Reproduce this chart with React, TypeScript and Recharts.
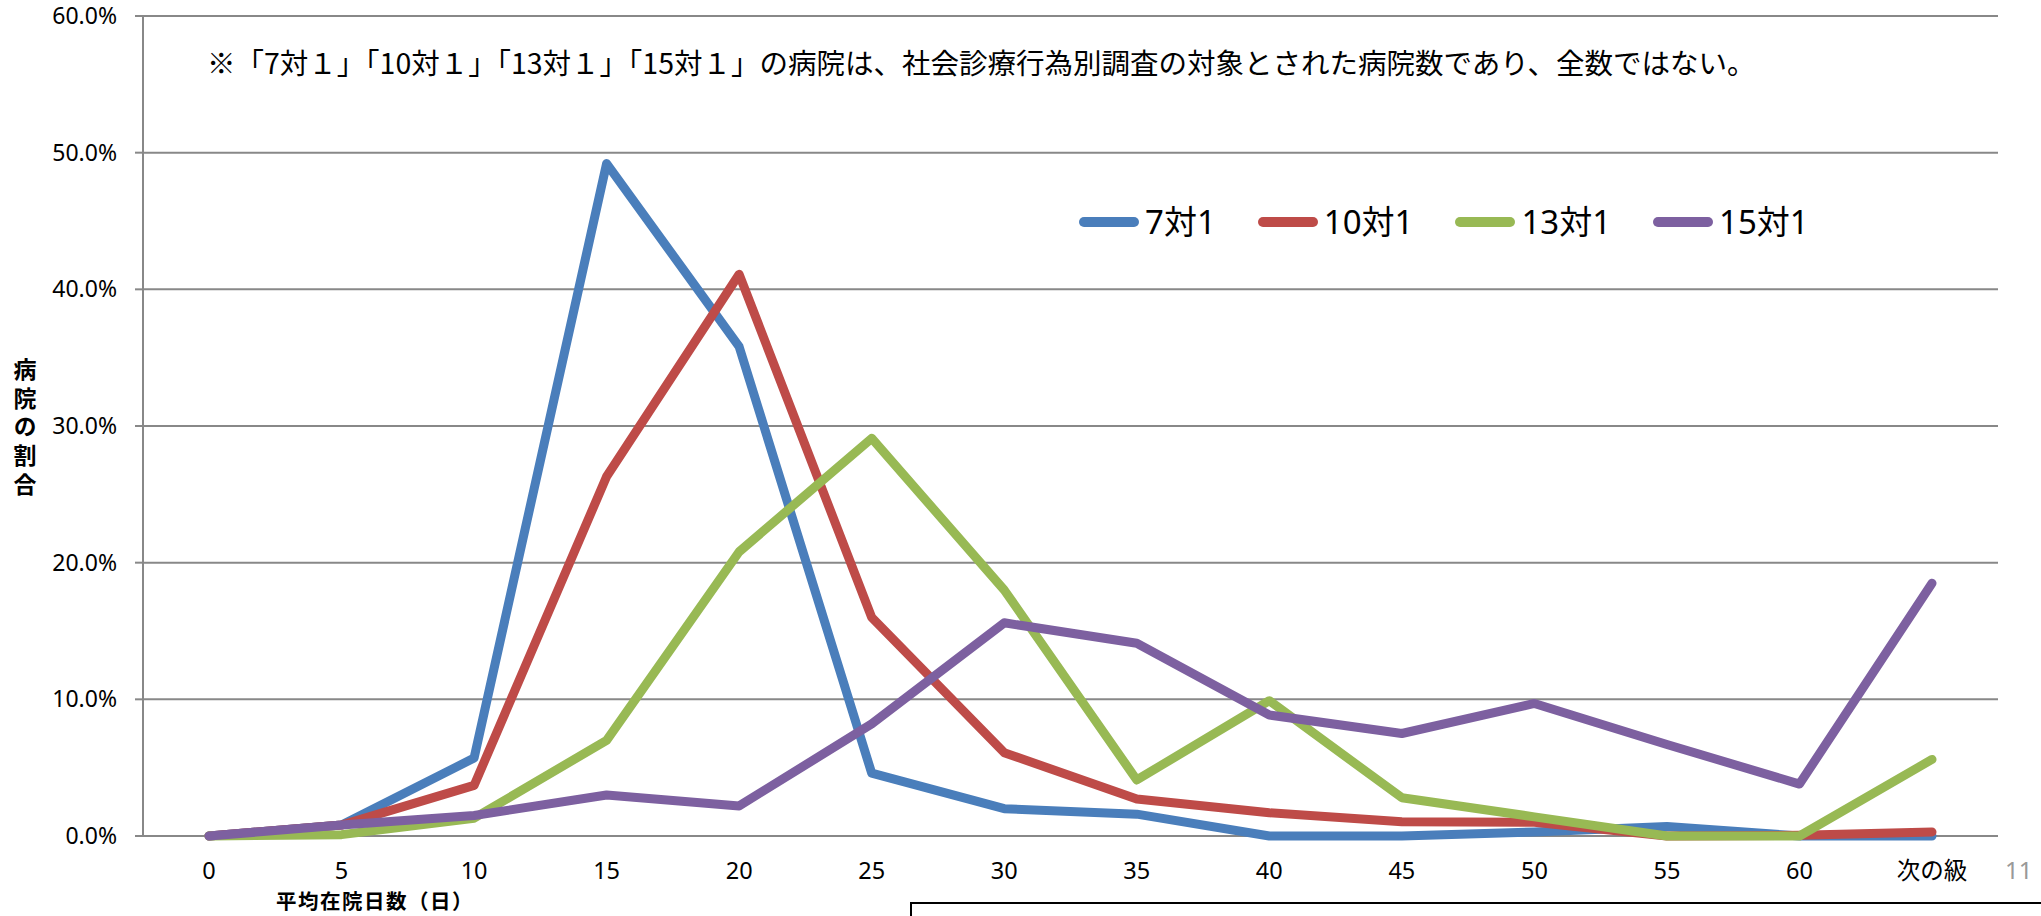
import React from 'react'
import { LineChart, Line, XAxis, YAxis, CartesianGrid, Legend } from 'recharts'

// 平均在院日数の階級
const CATEGORIES = ['0', '5', '10', '15', '20', '25', '30', '35', '40', '45', '50', '55', '60', '次の級']

// 病院の割合 (%)
const SERIES_7 = [0, 0.8, 5.7, 49.2, 35.8, 4.6, 2.0, 1.6, 0, 0, 0.3, 0.7, 0, 0]
const SERIES_10 = [0, 0.8, 3.7, 26.3, 41.1, 16.0, 6.1, 2.7, 1.7, 1.05, 1.0, 0, 0.05, 0.3]
const SERIES_13 = [0, 0.1, 1.3, 7.0, 20.8, 29.1, 18.0, 4.1, 9.9, 2.8, 1.4, 0, 0, 5.6]
const SERIES_15 = [0, 0.8, 1.5, 3.0, 2.2, 8.2, 15.6, 14.1, 8.85, 7.5, 9.7, 6.7, 3.8, 18.5]

const Y_TICKS = [0, 10, 20, 30, 40, 50, 60]

const SERIES = [
  { key: 's7', name: '7対1', color: '#4A7EBB', values: SERIES_7 },
  { key: 's10', name: '10対1', color: '#BE4B48', values: SERIES_10 },
  { key: 's13', name: '13対1', color: '#98B954', values: SERIES_13 },
  { key: 's15', name: '15対1', color: '#7D60A0', values: SERIES_15 },
]

const NOTE = '※「7対１」「10対１」「13対１」「15対１」の病院は、社会診療行為別調査の対象とされた病院数であり、全数ではない。'
const Y_TITLE = '病院の割合'
const X_TITLE = '平均在院日数（日）'

const FONT = "'Noto Sans', 'Noto Sans CJK JP', sans-serif"
const JP_FONT = "'Noto Sans CJK JP', 'Noto Sans', sans-serif"
const GRID = '#888888'

const data = CATEGORIES.map((label, i) => {
  const row: Record<string, string | number> = { label }
  SERIES.forEach((s) => {
    row[s.key] = s.values[i]
  })
  return row
})

const XTick = (props: any) => {
  const { x, y, payload } = props
  return (
    <text
      x={x}
      y={y + 34}
      textAnchor="middle"
      dominantBaseline="central"
      fill="#000"
      fontSize={23.5}
      fontFamily={FONT}
    >
      {payload.value}
    </text>
  )
}

const LegendContent = () => (
  <div style={{ display: 'flex', alignItems: 'center', gap: 42, height: 44 }}>
    {SERIES.map((s) => (
      <div key={s.key} style={{ display: 'flex', alignItems: 'center' }}>
        <svg width={60} height={12}>
          <line x1={5} y1={6} x2={55} y2={6} stroke={s.color} strokeWidth={10} strokeLinecap="round" />
        </svg>
        <span style={{ marginLeft: 6, fontSize: 33, fontFamily: FONT, color: '#000', lineHeight: '44px' }}>
          {s.name}
        </span>
      </div>
    ))}
  </div>
)

export default function App() {
  return (
    <div
      style={{
        position: 'fixed',
        left: 0,
        top: 0,
        width: 2041,
        height: 916,
        overflow: 'hidden',
        background: '#fff',
      }}
    >
      <LineChart width={2041} height={916} data={data} margin={{ top: 16, right: 43, bottom: 0, left: 0 }}>
        <CartesianGrid vertical={false} stroke={GRID} strokeWidth={2} />
        <XAxis
          dataKey="label"
          height={80}
          axisLine={false}
          tickLine={false}
          tickSize={0}
          tickMargin={0}
          interval={0}
          padding={{ left: 66, right: 66 }}
          tick={<XTick />}
        />
        <YAxis
          width={143}
          domain={[0, 60]}
          ticks={Y_TICKS}
          interval={0}
          tickSize={8}
          tickMargin={18}
          axisLine={{ stroke: GRID, strokeWidth: 2 }}
          tickLine={{ stroke: GRID, strokeWidth: 2 }}
          tick={{ fill: '#000', fontSize: 23, fontFamily: FONT }}
          tickFormatter={(v: number) => v.toFixed(1) + '%'}
        />
        <Legend
          layout="horizontal"
          verticalAlign="middle"
          align="center"
          content={<LegendContent />}
          wrapperStyle={{ top: 200, left: 1079, width: 'auto', right: 'auto', bottom: 'auto' }}
        />
        {SERIES.map((s) => (
          <Line
            key={s.key}
            type="linear"
            dataKey={s.key}
            name={s.name}
            stroke={s.color}
            strokeWidth={9}
            strokeLinecap="round"
            strokeLinejoin="round"
            dot={false}
            activeDot={false}
            isAnimationActive={false}
          />
        ))}
      </LineChart>

      <div
        style={{
          position: 'absolute',
          left: 207,
          top: 42,
          lineHeight: '40px',
          fontSize: 28.5,
          fontFamily: JP_FONT,
          color: '#000',
          whiteSpace: 'nowrap',
        }}
      >
        {NOTE}
      </div>

      <div
        style={{
          position: 'absolute',
          left: 11,
          top: 358,
          width: 28,
          writingMode: 'vertical-rl',
          textOrientation: 'upright',
          fontSize: 23,
          lineHeight: '28px',
          letterSpacing: '5.6px',
          fontWeight: 'bold',
          fontFamily: JP_FONT,
          color: '#000',
        }}
      >
        {Y_TITLE}
      </div>

      <div
        style={{
          position: 'absolute',
          left: 225,
          top: 886,
          width: 300,
          textAlign: 'center',
          fontSize: 20.5,
          lineHeight: '29px',
          letterSpacing: '1.5px',
          fontWeight: 'bold',
          fontFamily: JP_FONT,
          color: '#000',
          whiteSpace: 'nowrap',
        }}
      >
        {X_TITLE}
      </div>

      <div
        style={{
          position: 'absolute',
          left: 2005,
          top: 854,
          fontSize: 24,
          lineHeight: '32px',
          fontFamily: FONT,
          color: '#999',
        }}
      >
        11
      </div>

      <div
        style={{
          position: 'absolute',
          left: 910,
          top: 902,
          width: 1300,
          height: 200,
          border: '2px solid #000',
        }}
      />
    </div>
  )
}
